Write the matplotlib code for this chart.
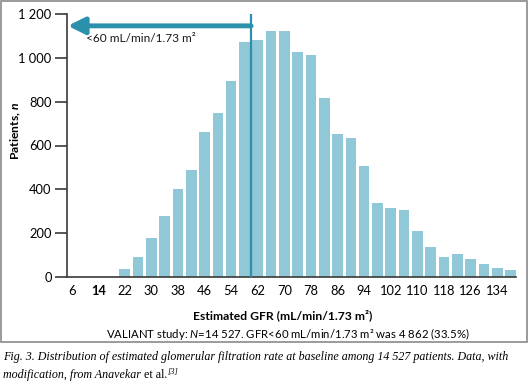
import numpy as np
import matplotlib.pyplot as plt
from matplotlib.patches import Rectangle

# Estimated GFR bins (mL/min/1.73 m2), 4-unit bins
gfr_bins = [6, 10, 14, 18, 22, 26, 30, 34, 38, 42, 46, 50, 54, 58, 62, 66, 70,
            74, 78, 82, 86, 90, 94, 98, 102, 106, 110, 114, 118, 122, 126, 130,
            134, 138]
patients = [0, 0, 0, 0, 38, 89, 180, 279, 402, 489, 663, 748, 896, 1073, 1083,
            1122, 1122, 1026, 1014, 815, 653, 633, 508, 337, 317, 305, 208, 135,
            91, 103, 83, 61, 41, 30]

x_ticks = [6, 14, 22, 30, 38, 46, 54, 62, 70, 78, 86, 94, 102, 110, 118, 126, 134]
y_ticks = [0, 200, 400, 600, 800, 1000, 1200]
y_tick_labels = ['0', '200', '400', '600', '800', '1 000', '1 200']
cutoff = 60

bar_color = '#91c8d7'
line_color = '#2a90ab'
axis_color = '#3a3a3a'

plt.rcParams['font.family'] = ['Lato', 'DejaVu Sans']
plt.rcParams['mathtext.fontset'] = 'custom'
plt.rcParams['mathtext.rm'] = 'Lato'
plt.rcParams['mathtext.it'] = 'Lato:italic'
plt.rcParams['mathtext.bf'] = 'Lato:bold'
plt.rcParams['mathtext.bfit'] = 'Lato:italic:bold'

fig = plt.figure(figsize=(5.29, 3.88), dpi=100)
ax = fig.add_axes([0.1267, 0.2861, 0.8487, 0.6778])

ax.bar(gfr_bins, patients, width=3.2, color=bar_color, zorder=2)

ax.set_xlim(4.65, 139.65)
ax.set_ylim(0, 1200)

# cut-off line and arrow
ax.plot([cutoff, cutoff], [0, 1200], color=line_color, lw=1.6, zorder=3)
ax.annotate('', xy=(4.9, 1146), xytext=(cutoff, 1146),
            arrowprops=dict(arrowstyle='-|>,head_length=1.0,head_width=0.5',
                            color=line_color, lw=3.5, shrinkA=0, shrinkB=0),
            zorder=4)
ax.text(10.5, 1086, '<60 mL/min/1.73 m²', fontsize=8.6, va='center', ha='left',
        color='#1a1a1a')

ax.set_xticks(x_ticks)
ax.set_xticklabels([str(t) for t in x_ticks], fontsize=9.3)
ax.tick_params(axis='x', length=0, pad=6)
for lab in ax.get_xticklabels():
    if lab.get_text() == '14':
        lab.set_fontweight('bold')

ax.set_yticks(y_ticks)
ax.set_yticklabels(y_tick_labels, fontsize=9.3)
ax.tick_params(axis='y', length=9, width=1.2, color=axis_color, pad=2)

for side in ['top', 'right']:
    ax.spines[side].set_visible(False)
for side in ['left', 'bottom']:
    ax.spines[side].set_color(axis_color)
    ax.spines[side].set_linewidth(1.2)

fig.text(16 / 529, 1 - 131 / 388, 'Patients, $\\mathbfit{n}$', fontsize=8.7,
         fontweight='bold', rotation=90, ha='center', va='center')
fig.text(283 / 529, 1 - 315 / 388, 'Estimated GFR (mL/min/1.73 m²)', fontsize=8.7,
         fontweight='bold', ha='center', va='center')
fig.text(288 / 529, 1 - 334 / 388,
         'VALIANT study: $\\it{N}$=14 527. GFR<60 mL/min/1.73 m² was 4 862 (33.5%)',
         fontsize=8.2, ha='center', va='center')

# frame round the chart
fig.patches.append(Rectangle((0.002, 1 - 342 / 388), 0.994, 341 / 388,
                             transform=fig.transFigure, fill=False,
                             edgecolor='#8a8a8a', lw=1.2))

# caption
cap = dict(fontsize=8.65, family='Liberation Serif', va='baseline')
fig.text(0.006, 1 - 360 / 388,
         'Fig. 3. Distribution of estimated glomerular filtration rate at baseline '
         'among 14 527 patients. Data, with', style='italic', **cap)
t1 = fig.text(0.006, 1 - 378 / 388, 'modification, from Anavekar ',
              style='italic', **cap)
t2 = ax.annotate('et al.', xy=(1, 0), xycoords=t1, va='bottom',
                 fontsize=8.65, family='Liberation Serif', annotation_clip=False)
ax.annotate('[3]', xy=(1, 0.45), xycoords=t2, va='bottom', style='italic',
            fontsize=6, family='Liberation Serif', annotation_clip=False)

fig.savefig('out.png', dpi=100)
